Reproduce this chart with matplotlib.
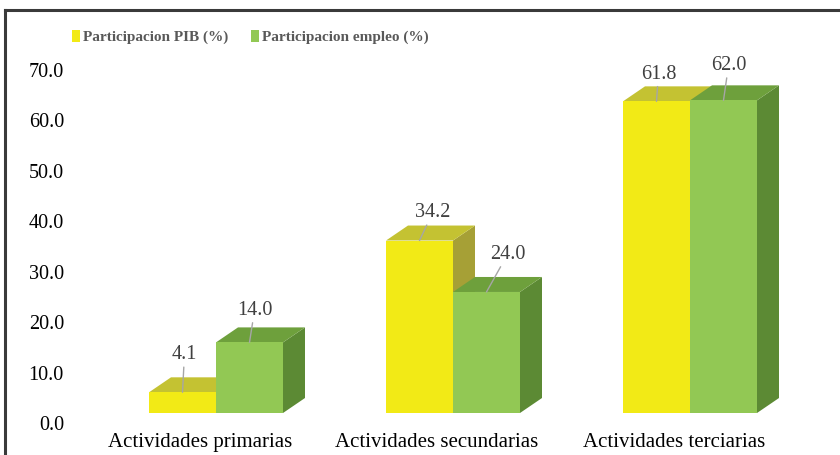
import matplotlib
matplotlib.use("Agg")
import matplotlib.pyplot as plt
from matplotlib.patches import Polygon, Patch
from matplotlib.lines import Line2D
from matplotlib.transforms import ScaledTranslation

# ---------- data ----------
categories = ["Actividades primarias", "Actividades secundarias", "Actividades terciarias"]
pib = [4.1, 34.2, 61.8]
empleo = [14.0, 24.0, 62.0]
series_names = ["Participacion PIB (%)", "Participacion empleo (%)"]
y_ticks = [0, 10, 20, 30, 40, 50, 60, 70]

# ---------- style ----------
YELLOW = {"front": "#F2EA16", "top": "#C4C232", "side": "#A6A036"}
GREEN = {"front": "#92C854", "top": "#6EA03C", "side": "#5C8A34"}
SERIF = "Liberation Serif"

# pseudo-3D geometry (data units): bar width, depth offsets, floor lift
W = 67 / 237
DX = 22 / 237
DY = 15 / (353 / 70)
BASE = 10 / (353 / 70)

# value label offsets (points) from the bar's top-front edge
LABEL_OFFSETS = [[(1.4, 27), (3.6, 23)],
                 [(9.4, 20), (15.1, 27)],
                 [(1.4, 19.5), (3.6, 25)]]

fig = plt.figure(figsize=(8.4, 4.55), dpi=100)
ax = fig.add_axes([100 / 840, 32 / 455, 700 / 840, 353 / 455])
ax.set_xlim((100 - 216) / 237, (800 - 216) / 237)
ax.set_ylim(0, 70)


def draw_faces(x0, v, colors, z):
    x1 = x0 + W
    y0, y1 = BASE, BASE + v
    side = [(x1, y0), (x1 + DX, y0 + DY), (x1 + DX, y1 + DY), (x1, y1)]
    top = [(x0, y1), (x1, y1), (x1 + DX, y1 + DY), (x0 + DX, y1 + DY)]
    ax.add_patch(Polygon(side, closed=True, facecolor=colors["side"],
                         edgecolor="none", zorder=z, clip_on=False))
    ax.add_patch(Polygon(top, closed=True, facecolor=colors["top"],
                         edgecolor="none", zorder=z, clip_on=False))


xs = list(range(len(categories)))
for series, colors, z, si in [(pib, YELLOW, 2, 0), (empleo, GREEN, 3, 1)]:
    lefts = [x - W if si == 0 else x for x in xs]
    for x0, v in zip(lefts, series):
        draw_faces(x0, v, colors, z)
    ax.bar(lefts, series, width=W, bottom=BASE, align="edge",
           color=colors["front"], edgecolor="none", zorder=z + 0.1,
           clip_on=False)
    for i, (x0, v) in enumerate(zip(lefts, series)):
        ax.annotate(f"{v:.1f}", xy=(x0 + W / 2, BASE + v),
                    xytext=LABEL_OFFSETS[i][si], textcoords="offset points",
                    ha="center", va="center", fontsize=14.5, family=SERIF,
                    color="#404040", zorder=10, annotation_clip=False,
                    arrowprops=dict(arrowstyle="-", color="#A6A6A6", lw=1,
                                    shrinkA=0, shrinkB=0))

ax.set_yticks(y_ticks)
ax.set_yticklabels([f"{t:.1f}" for t in y_ticks], family=SERIF, fontsize=14.5)
ax.set_xticks(xs)
ax.set_xticklabels(categories, family=SERIF, fontsize=15)
ax.tick_params(axis="y", length=0, pad=26)
ax.tick_params(axis="x", length=0, pad=7)
# category labels sit a little left of the bar pair (3D floor perspective)
shift = ScaledTranslation(-0.16, 0, fig.dpi_scale_trans)
for lab in ax.get_xticklabels():
    lab.set_transform(lab.get_transform() + shift)
for s in ax.spines.values():
    s.set_visible(False)
ax.patch.set_alpha(0)

# legend
handles = [Patch(facecolor=YELLOW["front"], edgecolor="none"),
           Patch(facecolor=GREEN["front"], edgecolor="none")]
fig.legend(handles, series_names, loc="center left",
           bbox_to_anchor=(72 / 840, 1 - 37 / 455), ncol=2, frameon=False,
           prop={"family": SERIF, "weight": "bold", "size": 11},
           labelcolor="#595959", handlelength=0.5, handleheight=0.8,
           handletextpad=0.2, columnspacing=1.5, borderpad=0, borderaxespad=0)

# chart frame (top and left edges visible)
fig.add_artist(Line2D([5 / 840, 1], [1 - 10 / 455, 1 - 10 / 455],
                      color="#3A3A3A", lw=2.2))
fig.add_artist(Line2D([5 / 840, 5 / 840], [0, 1 - 10 / 455],
                      color="#3A3A3A", lw=2.2))

fig.savefig("out.png", dpi=100)
